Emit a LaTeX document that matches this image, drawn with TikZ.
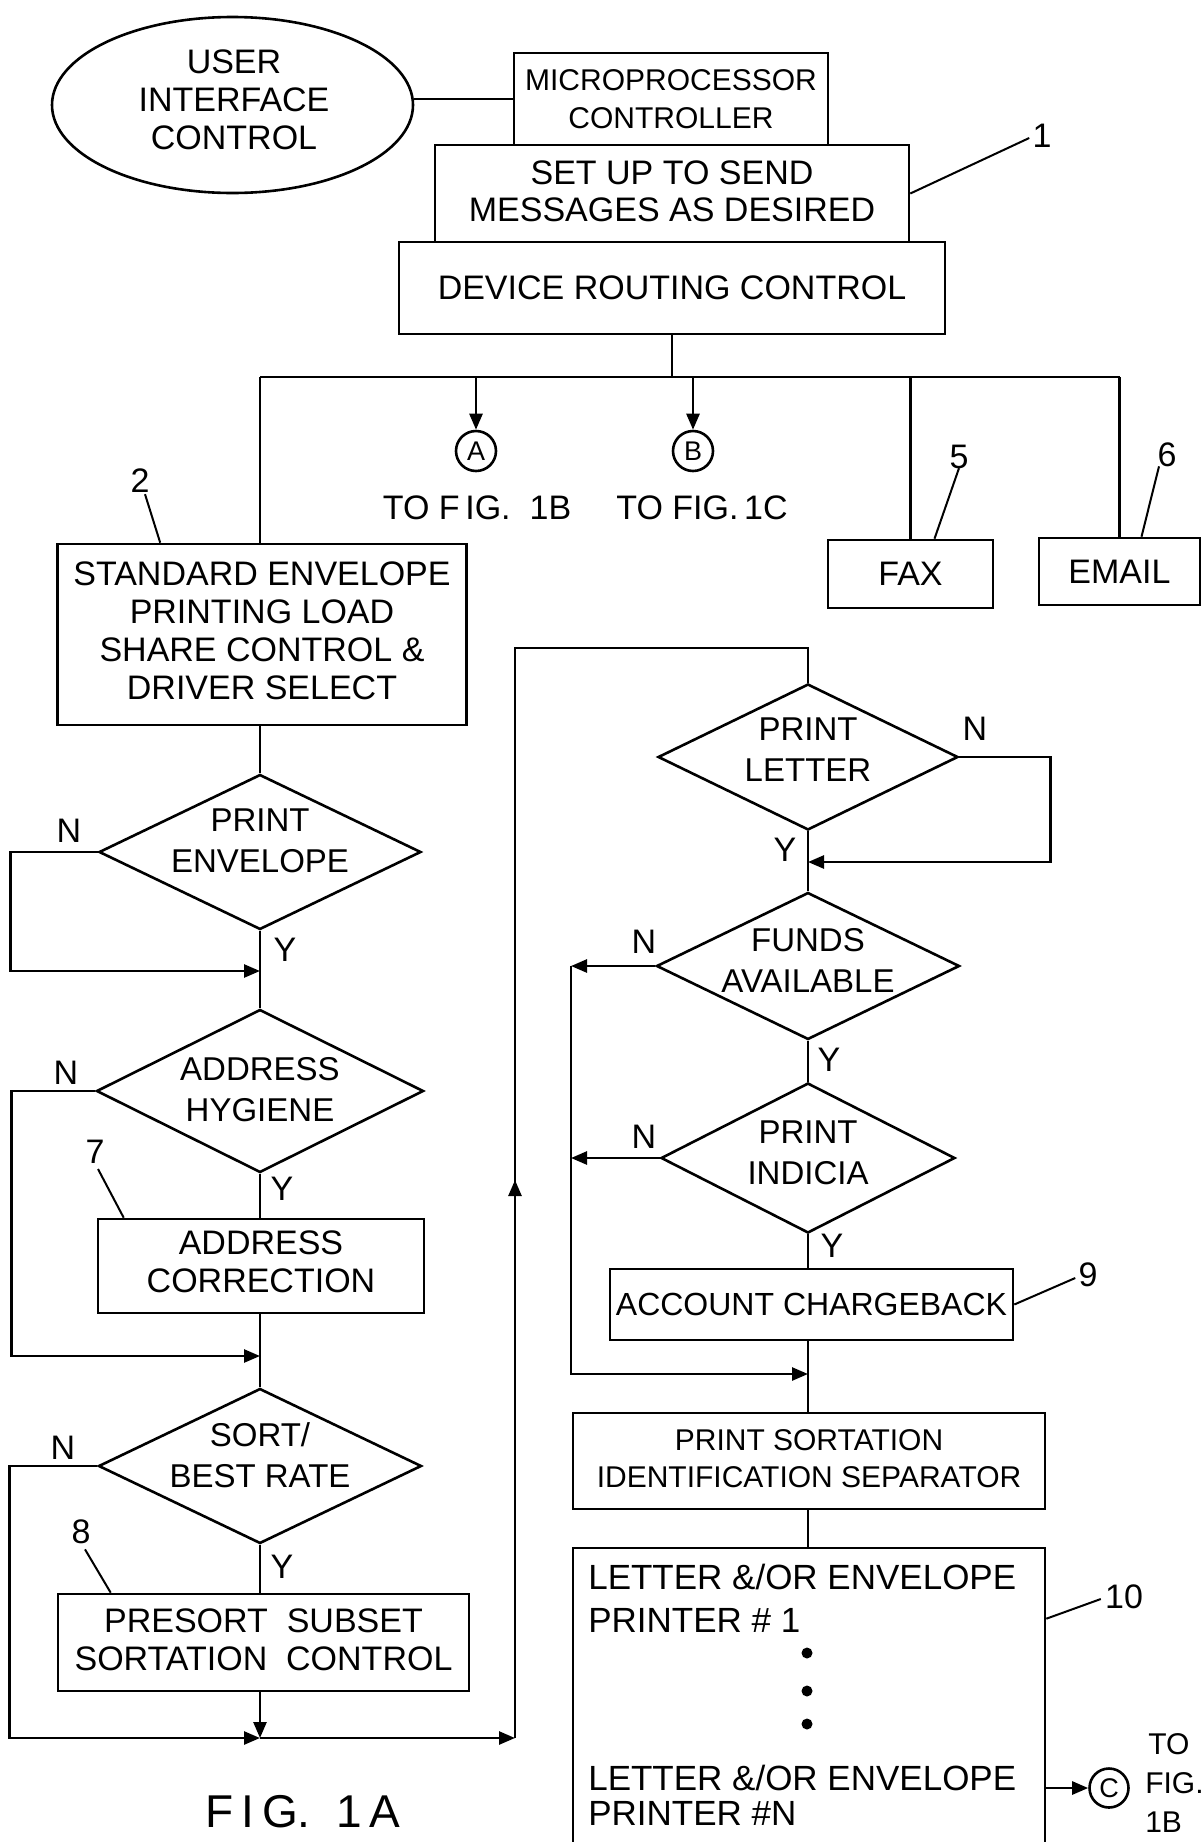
\documentclass[tikz,border=0pt]{standalone}
\usepackage{fontspec}
\setmainfont{Liberation Sans}
\usetikzlibrary{shapes.geometric,arrows.meta,calc}
\begin{document}
\begin{tikzpicture}[x=1pt,y=-1pt,line width=2.6pt,
  arr/.style={-{Triangle[length=16pt,width=13pt]}},
  box/.style={draw,rectangle,inner sep=0pt},
  dia/.style={draw,diamond,inner sep=0pt},
  txt/.style={align=center,inner sep=0pt,font=\fontsize{34}{38}\selectfont},
  dtxt/.style={align=center,inner sep=0pt,font=\fontsize{33}{41}\selectfont},
  lbl/.style={inner sep=0pt,font=\fontsize{34}{34}\selectfont},
  lead/.style={line width=2pt},
  con/.style={draw,circle,inner sep=0pt,minimum size=40pt,font=\fontsize{27}{27}\selectfont}]
\useasboundingbox (0,0) rectangle (1204,1842);
\fill[white] (0,0) rectangle (1204,1842);

% top blocks
\node[draw,ellipse,minimum width=361pt,minimum height=176pt] (ui) at (232.5,105) {};
\node[txt] at (234,100) {USER\\INTERFACE\\CONTROL};
\node[box,minimum width=314pt,minimum height=92pt] (micro) at (671,99) {};
\node[txt,font=\fontsize{30}{38}\selectfont] at (micro) {MICROPROCESSOR\\CONTROLLER};
\node[box,minimum width=474pt,minimum height=97pt] (setup) at (672,193.5) {};
\node[txt,font=\fontsize{34}{37}\selectfont] at (672,191) {SET UP TO SEND\\MESSAGES AS DESIRED};
\node[box,minimum width=546pt,minimum height=92pt] (dev) at (672,288) {};
\node[txt] at (dev) {DEVICE ROUTING CONTROL};
\draw (micro.west) -- (micro.west -| ui.east);
\node[lbl] (n1) at (1042,136) {1};
\draw[lead] (setup.east) -- ($(n1.west)+(-2,2)$);

% bus
\coordinate (busc) at (672,377);
\coordinate (busL) at (260,377);
\coordinate (busR) at (1120,377);
\draw (dev.south) -- (busc);
\draw (busL) -- (busR);

\node[con] (ca) at (476,451) {A};
\node[con] (cb) at (693,451) {B};
\draw[arr] (ca.north |- busc) -- (ca.north);
\draw[arr] (cb.north |- busc) -- (cb.north);
\node[txt] at (477,508) {TO F\,IG.\ \ 1B};
\node[txt] at (702,508) {TO FIG.\,1C};

\node[box,minimum width=165pt,minimum height=68pt] (fax) at (910.5,574) {};
\node[txt] at (fax) {FAX};
\node[box,minimum width=161pt,minimum height=67pt] (email) at (1119.5,571.5) {};
\node[txt] at (email) {EMAIL};
\draw (fax.north |- busc) -- (fax.north);
\draw (email.north |- busc) -- (email.north);
\node[lbl] (n5) at (959,457) {5};
\node[lbl] (n6) at (1167,455) {6};
\draw[lead] ($(fax.north)+(24,0)$) -- ($(n5.south)+(0,-2)$);
\draw[lead] ($(email.north)+(22,0)$) -- ($(n6.south)+(-8,-2)$);

% left column
\node[box,minimum width=409pt,minimum height=181pt] (std) at (262,634.5) {};
\node[txt] at (262,631) {STANDARD ENVELOPE\\PRINTING LOAD\\SHARE CONTROL \&\\DRIVER SELECT};
\draw (busL) -- (busL |- std.north);
\node[lbl] (n2) at (140,481) {2};
\draw[lead] ($(std.north west)+(104,0)$) -- ($(n2.south)+(5,0)$);

\node[dia,minimum width=322pt,minimum height=155pt] (pe) at (260,852) {};
\node[dtxt] at (260,841) {PRINT\\ENVELOPE};
\node[dia,minimum width=327pt,minimum height=163pt] (ah) at (260,1091) {};
\node[dtxt] at (260,1090) {ADDRESS\\HYGIENE};
\node[box,minimum width=326pt,minimum height=94pt] (ac) at (261,1266) {};
\node[txt] at (261,1262) {ADDRESS\\CORRECTION};
\node[dia,minimum width=323pt,minimum height=155pt] (sr) at (260,1466) {};
\node[dtxt] at (260,1455) {SORT/\\BEST RATE};
\node[box,minimum width=411pt,minimum height=97pt] (ps) at (263.5,1642.5) {};
\node[txt] at (263.5,1640) {PRESORT\ \ SUBSET\\SORTATION\ \ CONTROL};

\draw (std.south -| pe.north) -- (pe.north);
\draw (pe.south) -- (ah.north);
\draw (ah.south) -- (ac.north -| ah.south);
\draw (ac.south -| ah.south) -- (sr.north);
\draw (sr.south) -- (ps.north -| sr.south);

\coordinate (j1) at (260,971);
\coordinate (j2) at (260,1356);
\coordinate (j3) at (260,1738);
\coordinate (j4) at (515,1738);
\coordinate (top) at (515,648);
\draw[arr] (pe.west) -- ++(-87,0) |- (j1);
\draw[arr] (ah.west) -- ++(-84,0) |- (j2);
\draw[arr] (sr.west) -- ++(-88,0) |- (j3);
\draw[arr] (ps.south -| j3) -- (j3);
\draw[arr] (j3) -- (j4);

\node[lbl] at (69,831) {N};
\node[lbl] at (285,950) {Y};
\node[lbl] at (66,1073) {N};
\node[lbl] at (282,1189) {Y};
\node[lbl] at (63,1448) {N};
\node[lbl] at (282,1567) {Y};
\node[lbl] (n7) at (95,1152) {7};
\draw[lead] ($(ac.north west)+(27,0)$) -- ($(n7.south)+(3,4)$);
\node[lbl] (n8) at (81,1532) {8};
\draw[lead] ($(ps.north west)+(54,0)$) -- ($(n8.south)+(4,4)$);

% loop up to right column
\node[dia,minimum width=300pt,minimum height=146pt] (pl) at (808,757) {};
\node[dtxt] at (808,750) {PRINT\\LETTER};
\draw (j4) -- (top) -| (pl.north);
\draw[arr] (515,1260) -- (515,1180);

\node[dia,minimum width=303pt,minimum height=147pt] (fa) at (808,966) {};
\node[dtxt] at (808,960) {FUNDS\\AVAILABLE};
\node[dia,minimum width=294pt,minimum height=150pt] (pi) at (808,1158) {};
\node[dtxt] at (808,1153) {PRINT\\INDICIA};
\node[box,minimum width=403pt,minimum height=71pt] (acb) at (811.5,1304.5) {};
\node[txt,font=\fontsize{32}{38}\selectfont] at (acb) {ACCOUNT CHARGEBACK};
\node[box,minimum width=472pt,minimum height=96pt] (pss) at (809,1461) {};
\node[txt,font=\fontsize{30}{37}\selectfont] at (809,1459) {PRINT SORTATION\\IDENTIFICATION SEPARATOR};
\node[box,minimum width=472pt,minimum height=330pt] (pr) at (809,1713) {};

\coordinate (r1) at (808,862);
\coordinate (fl) at (571,966);
\coordinate (il) at (571,1158);
\coordinate (r2) at (808,1374);
\draw[arr] (pl.east) -- ++(91,0) |- (r1);
\draw (pl.south) -- (fa.north);
\draw[arr] (fa.west) -- (fl);
\draw (fa.south) -- (pi.north);
\draw[arr] (pi.west) -- (il);
\draw (pi.south) -- (acb.north -| pi.south);
\draw[arr] (fl) -- (571,1374) -- (r2);
\draw (acb.south -| pi.south) -- (pss.north -| pi.south);
\draw (pss.south -| pi.south) -- (pr.north -| pi.south);

\node[lbl] at (975,729) {N};
\node[lbl] at (785,850) {Y};
\node[lbl] at (644,942) {N};
\node[lbl] at (829,1060) {Y};
\node[lbl] at (644,1137) {N};
\node[lbl] at (832,1246) {Y};
\node[lbl] (n9) at (1088,1275) {9};
\draw[lead] (acb.east) -- ($(n9.west)+(-2,3)$);
\node[lbl] (n10) at (1124,1597) {10};
\draw[lead] ($(pr.north east)+(0,72)$) -- ($(n10.west)+(-3,2)$);

% printer box contents
\node[txt,anchor=west,font=\fontsize{35}{38}\selectfont] at (587,1577) {LETTER \&/OR ENVELOPE};
\node[txt,anchor=west,font=\fontsize{35}{38}\selectfont] at (587,1620) {PRINTER \# 1};
\fill (807,1653) circle (5.5pt);
\fill (807,1691) circle (5.5pt);
\fill (807,1724) circle (5.5pt);
\node[txt,anchor=west,font=\fontsize{35}{38}\selectfont] at (587,1778) {LETTER \&/OR ENVELOPE};
\node[txt,anchor=west,font=\fontsize{35}{38}\selectfont] at (587,1813) {PRINTER \#N};

\node[draw,circle,inner sep=0pt,minimum size=39pt,font=\fontsize{27}{27}\selectfont] (cc) at (1109,1788) {C};
\draw[arr] (pr.east |- cc.west) -- (cc.west);
\node[txt,anchor=west,font=\fontsize{30}{30}\selectfont] at (1147,1744) {TO};
\node[txt,anchor=west,font=\fontsize{30}{30}\selectfont] at (1144,1783) {FIG.};
\node[txt,anchor=west,font=\fontsize{30}{30}\selectfont] at (1144,1822) {1B};

\node[txt,font=\fontsize{46}{46}\selectfont] at (303,1812) {F\,I\,G.\ \ 1\,A};
\end{tikzpicture}
\end{document}
